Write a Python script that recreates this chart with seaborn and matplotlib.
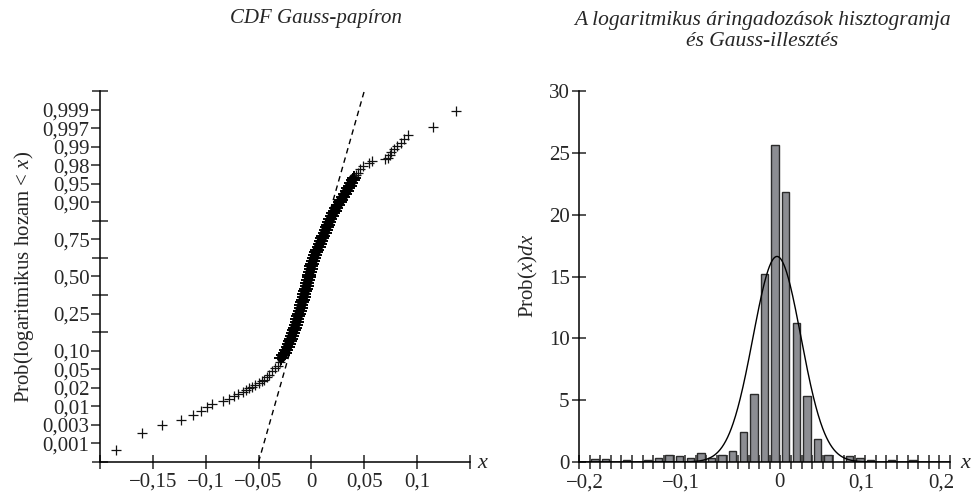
import numpy as np
import pandas as pd
import matplotlib
matplotlib.use("Agg")
import matplotlib.pyplot as plt
import seaborn as sns

# ---------------- data ----------------
# Left: CDF on Gauss paper. x = log return, y = position on the probability paper
# (tick index of the probability scale, 0 = bottom, 20 = top)
tail_x = [-0.185, -0.160, -0.141, -0.123, -0.112, -0.104, -0.099, -0.094, -0.084, -0.078,
          -0.073, -0.069, -0.065, -0.062, -0.059, -0.056, -0.053, -0.050, -0.047, -0.045,
          -0.042, -0.040, -0.037, -0.034, -0.032, -0.030,
          0.042, 0.044, 0.046, 0.049, 0.054, 0.057, 0.070, 0.072, 0.074, 0.075,
          0.078, 0.081, 0.085, 0.088, 0.091, 0.115, 0.137]
tail_y = [0.65, 1.55, 1.98, 2.27, 2.54, 2.76, 2.94, 3.12, 3.28, 3.42,
          3.55, 3.66, 3.78, 3.89, 3.98, 4.07, 4.16, 4.25, 4.35, 4.43,
          4.58, 4.70, 4.88, 5.06, 5.20, 5.40,
          15.45, 15.60, 15.78, 15.93, 16.10, 16.23, 16.36, 16.40, 16.55, 16.70,
          16.86, 17.05, 17.20, 17.40, 17.62, 18.04, 18.94]
band_x = [-0.0285, -0.0268, -0.0252, -0.0238, -0.0226, -0.0215, -0.0204, -0.0194, -0.0184, -0.0175,
          -0.0166, -0.0157, -0.0149, -0.0141, -0.0133, -0.0125, -0.0117, -0.0109, -0.0101, -0.0094,
          -0.0087, -0.0080, -0.0073, -0.0066, -0.0059, -0.0052, -0.0045, -0.0038, -0.0031, -0.0025,
          -0.0019, -0.0013, -0.0007, 0.0000, 0.0008, 0.0016, 0.0025, 0.0034, 0.0044, 0.0055,
          0.0067, 0.0079, 0.0091, 0.0102, 0.0113, 0.0124, 0.0135, 0.0146, 0.0157, 0.0168,
          0.0180, 0.0193, 0.0207, 0.0221, 0.0236, 0.0251, 0.0267, 0.0283, 0.0300, 0.0316,
          0.0333, 0.0348, 0.0362, 0.0376, 0.0389, 0.0398]
band_y = [5.60, 5.75, 5.90, 6.05, 6.20, 6.35, 6.50, 6.65, 6.80, 6.95,
          7.10, 7.25, 7.40, 7.55, 7.70, 7.85, 8.00, 8.15, 8.30, 8.45,
          8.60, 8.75, 8.90, 9.05, 9.20, 9.35, 9.50, 9.65, 9.80, 9.95,
          10.10, 10.25, 10.40, 10.55, 10.70, 10.85, 11.00, 11.15, 11.30, 11.45,
          11.60, 11.75, 11.90, 12.05, 12.20, 12.35, 12.50, 12.65, 12.80, 12.95,
          13.10, 13.25, 13.40, 13.55, 13.70, 13.85, 14.00, 14.15, 14.30, 14.45,
          14.60, 14.75, 14.90, 15.05, 15.20, 15.30]
gauss_line_x = [-0.05, 0.05]
gauss_line_y = [0.0, 20.0]
prob_labels = ["0,001", "0,003", "0,01", "0,02", "0,05", "0,10", "0,25", "0,50",
               "0,75", "0,90", "0,95", "0,98", "0,99", "0,997", "0,999"]
left_xlabels = ["", "\u22120,15", "\u22120,1", "\u22120,05", "0", "0,05", "0,1", ""]

# Right: histogram of log returns (density), 35 bins starting at -0.2
bin_start = -0.2
bin_width = 0.0106
hist_heights = [0.0, 0.25, 0.25, 0.0, 0.2, 0.0, 0.2, 0.35, 0.6, 0.45,
                0.3, 0.7, 0.3, 0.55, 0.9, 2.4, 5.5, 15.2, 25.6, 21.8,
                11.2, 5.3, 1.9, 0.55, 0.0, 0.5, 0.3, 0.2, 0.0, 0.2,
                0.0, 0.2, 0.0, 0.0, 0.0]
gauss_mu = -0.002
gauss_sigma = 0.024
right_xlabels = ["\u22120,2", "\u22120,1", "0", "0,1", "0,2"]

# ---------------- style ----------------
sns.set_style("ticks")
plt.rcParams["font.family"] = ["Liberation Serif", "DejaVu Serif"]
plt.rcParams["mathtext.fontset"] = "custom"
plt.rcParams["mathtext.rm"] = "Liberation Serif"
plt.rcParams["mathtext.it"] = "Liberation Serif:italic"
FS = 15

fig = plt.figure(figsize=(9.74, 4.94), dpi=100)
W, H = 974, 494
def box(x0, x1, ytop, ybot):
    return [x0 / W, 1 - ybot / H, (x1 - x0) / W, (ybot - ytop) / H]

axL = fig.add_axes(box(100, 470, 91, 462))
axR = fig.add_axes(box(579, 950, 91, 462))

for ax in (axL, axR):
    for s in ("top", "right"):
        ax.spines[s].set_visible(False)
    for s in ("left", "bottom"):
        ax.spines[s].set_linewidth(1.1)
        ax.spines[s].set_color("black")
        ax.spines[s].set_zorder(5)
    ax.set_facecolor("white")

# ---- left panel ----
tails = pd.DataFrame({"x": tail_x, "y": tail_y})
band = pd.DataFrame({"x": band_x, "y": band_y})
sns.lineplot(x=gauss_line_x, y=gauss_line_y, ax=axL, color="black",
             linestyle=(0, (4, 3)), linewidth=1.0)
# dense core of the overlapping points
sns.lineplot(x=band_x, y=band_y, ax=axL, sort=False, color="black",
             linewidth=6.5, zorder=3)
sns.scatterplot(data=tails, x="x", y="y", ax=axL, marker="+", s=60,
                color="#111111", zorder=3, clip_on=False)
axL.collections[-1].set_linewidths(0.9)
sns.scatterplot(data=band, x="x", y="y", ax=axL, marker="+", s=110,
                color="black", zorder=4)
axL.collections[-1].set_linewidths(1.4)
axL.set_xlim(-0.2, 0.15)
axL.set_ylim(0, 20)
axL.set_xticks(np.linspace(-0.2, 0.15, 8))
axL.set_xticklabels(left_xlabels, fontsize=FS)
major_pos = [1, 2, 3, 4, 5, 6, 8, 10, 12, 14, 15, 16, 17, 18, 19]
axL.set_yticks(major_pos)
axL.set_yticklabels(prob_labels, fontsize=FS)
axL.set_yticks([0, 7, 9, 11, 13, 20], minor=True)
axL.tick_params(axis="x", direction="inout", length=9.5, width=1.1, pad=3)
axL.tick_params(axis="y", which="major", direction="out", length=6.5, width=1.1, pad=1)
axL.tick_params(axis="y", which="minor", direction="inout", length=12, width=1.1)
axL.set_xlabel("")
axL.set_ylabel("")

# ---- right panel ----
n_bins = len(hist_heights)
edges = bin_start + bin_width * np.arange(n_bins + 1)
centers = edges[:-1] + bin_width / 2
hist = pd.DataFrame({"x": centers, "w": hist_heights})
sns.histplot(data=hist, x="x", weights="w", binwidth=bin_width,
             binrange=(float(edges[0]), float(edges[-1])), shrink=0.69, ax=axR,
             color="#8c8d92", edgecolor="#2b2b2b", linewidth=1.0, alpha=1.0, zorder=2)
xs = np.linspace(edges[0], edges[-1], 800)
pdf = np.exp(-0.5 * ((xs - gauss_mu) / gauss_sigma) ** 2) / (gauss_sigma * np.sqrt(2 * np.pi))
sns.lineplot(x=xs, y=pdf, ax=axR, color="black", linewidth=1.0, zorder=3)
axR.set_xlim(edges[0], edges[-1])
axR.set_ylim(0, 30)
axR.set_xticks(edges)
axR.set_xticklabels([""] * len(edges))
axR.set_xticks([-0.194, -0.098, 0.0, 0.082, 0.162], minor=True)
axR.set_xticklabels(right_xlabels, minor=True, fontsize=FS)
axR.tick_params(axis="x", which="major", direction="inout", length=9.5, width=1.1)
axR.tick_params(axis="x", which="minor", length=0, pad=8)
axR.set_yticks(np.arange(0, 31, 5))
axR.set_yticklabels([str(v) for v in range(0, 31, 5)], fontsize=FS)
axR.tick_params(axis="y", direction="inout", length=9.5, width=1.1, pad=2)
axR.set_xlabel("")
axR.set_ylabel("")

# ---- texts ----
fig.text(316 / W, 1 - 18 / H, "CDF Gauss-papíron", style="italic", fontsize=FS,
         ha="center", va="center")
fig.text(762 / W, 1 - 31 / H, "A logaritmikus áringadozások hisztogramja\nés Gauss-illesztés",
         style="italic", fontsize=FS + 0.5, ha="center", va="center", linespacing=1.2)
fig.text(24 / W, 1 - 277 / H, "Prob(logaritmikus hozam < $x$)", rotation=90,
         fontsize=FS, ha="center", va="center")
fig.text(528 / W, 1 - 276 / H, "Prob($x$)$dx$", rotation=90, fontsize=FS,
         ha="center", va="center")
fig.text(483 / W, 1 - 463 / H, "$x$", fontsize=FS + 1, ha="center", va="center")
fig.text(966 / W, 1 - 463 / H, "$x$", fontsize=FS + 1, ha="center", va="center")

fig.savefig("out.png", dpi=100, facecolor="white")
